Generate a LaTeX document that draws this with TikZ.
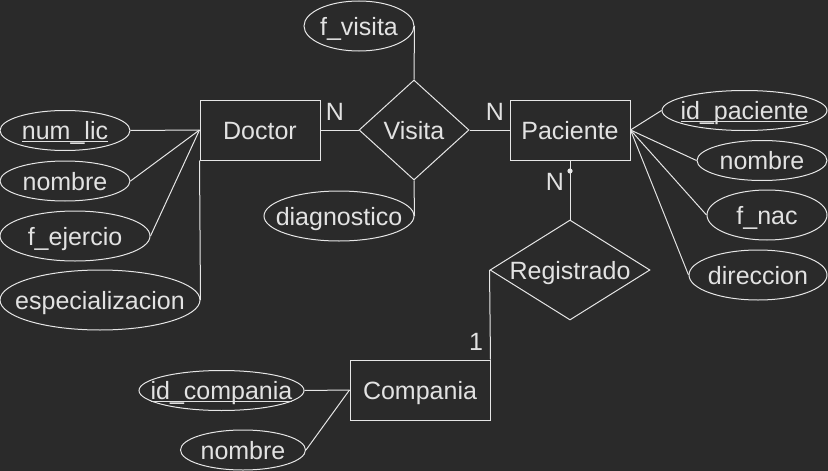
\documentclass[tikz,border=0pt]{standalone}
\usepackage{fontspec}
\setmainfont{Liberation Sans}
\usetikzlibrary{shapes.geometric}
\definecolor{bgc}{HTML}{2A2A2A}
\definecolor{fgc}{HTML}{E6E6E6}
\definecolor{txtc}{HTML}{E2E2E2}
\newcommand\ctxt[1]{\makebox[0pt]{#1}}
\newcommand\ulx[1]{\setbox0\hbox{#1}\rlap{\copy0}\rule[-2.6pt]{\wd0}{1pt}}
\begin{document}
\begin{tikzpicture}[x=1pt,y=-1pt,line width=1pt,
  every node/.style={text=txtc,font=\fontsize{25}{30}\selectfont,inner sep=0pt,text height=18pt,text depth=0pt},
  entity/.style={draw=fgc,rectangle,minimum width=#1,minimum height=60pt},
  attr/.style 2 args={draw=fgc,ellipse,minimum width=#1,minimum height=#2},
  rel/.style 2 args={draw=fgc,diamond,minimum width=#1,minimum height=#2},
  conn/.style={draw=fgc,line width=1pt}]
\fill[bgc] (0,0) rectangle (828,471);
\useasboundingbox (0,0) rectangle (828,471);

% entities
\node[entity=120pt] (doc) at (260,130) {\ctxt{Doctor}};
\node[entity=120pt] (pac) at (570,130) {\ctxt{Paciente}};
\node[entity=140pt] (comp) at (420,390) {\ctxt{Compania}};

% relationships
\node[rel={110pt}{100pt}] (vis) at (414,130) {\ctxt{Visita}};
\node[rel={160pt}{100pt}] (reg) at (570,270) {\ctxt{Registrado}};

% doctor attributes
\node[attr={130pt}{40pt}] (numlic) at (65,130.5) {\ctxt{\ulx{num\_lic}}};
\node[attr={130pt}{40pt}] (nomdoc) at (65,181) {\ctxt{nombre}};
\node[attr={150pt}{50pt}] (fej) at (75,236) {\ctxt{f\_ejercio}};
\node[attr={200pt}{60pt}] (esp) at (100,300) {\ctxt{especializacion}};

% visita attributes
\node[attr={110pt}{50pt}] (fvis) at (359,26) {\ctxt{f\_visita}};
\node[attr={150pt}{50pt}] (diag) at (339,216) {\ctxt{diagnostico}};

% paciente attributes
\node[attr={165pt}{40pt}] (idpac) at (744.5,110.5) {\ctxt{\ulx{id\_paciente}}};
\node[attr={130pt}{40pt}] (nompac) at (762,160.5) {\ctxt{nombre}};
\node[attr={120pt}{50pt}] (fnac) at (767,215) {\ctxt{f\_nac}};
\node[attr={138pt}{50pt}] (dir) at (758,275) {\ctxt{direccion}};

% compania attributes
\node[attr={165pt}{40pt}] (idcomp) at (221.5,390.5) {\ctxt{\ulx{id\_compania}}};
\node[attr={125pt}{40pt}] (nomcomp) at (243,450) {\ctxt{nombre}};

% connectors
\draw[conn] (numlic.east) -- (doc.west);
\draw[conn] (nomdoc.east) -- (doc.west);
\draw[conn] (fej.east) -- (doc.west);
\draw[conn] (esp.east) -- (doc.south west);
\draw[conn] (doc.east) -- (vis.west);
\draw[conn] (vis.east) -- (pac.west);
\draw[conn] (fvis.east) -- (vis.north);
\draw[conn] (diag.east) -- (vis.south);
\draw[conn] (pac.east) -- (idpac.west);
\draw[conn] (pac.east) -- (nompac.west);
\draw[conn] (pac.east) -- (fnac.west);
\draw[conn] (pac.east) -- (dir.west);
\draw[conn] (pac.south) -- (reg.north);
\path (pac.south) ++(0,10.5) coordinate (dot);
\fill[fgc] (dot) circle (2.6pt);
\draw[conn] (reg.west) -- (comp.north east);
\draw[conn] (idcomp.east) -- (comp.west);
\draw[conn] (nomcomp.east) -- (comp.west);

% cardinalities
\node (n1) at (335,111) {N};
\node (n2) at (495,111) {N};
\node (n3) at (555,181) {N};
\node (one) at (476,341) {1};
\end{tikzpicture}
\end{document}
